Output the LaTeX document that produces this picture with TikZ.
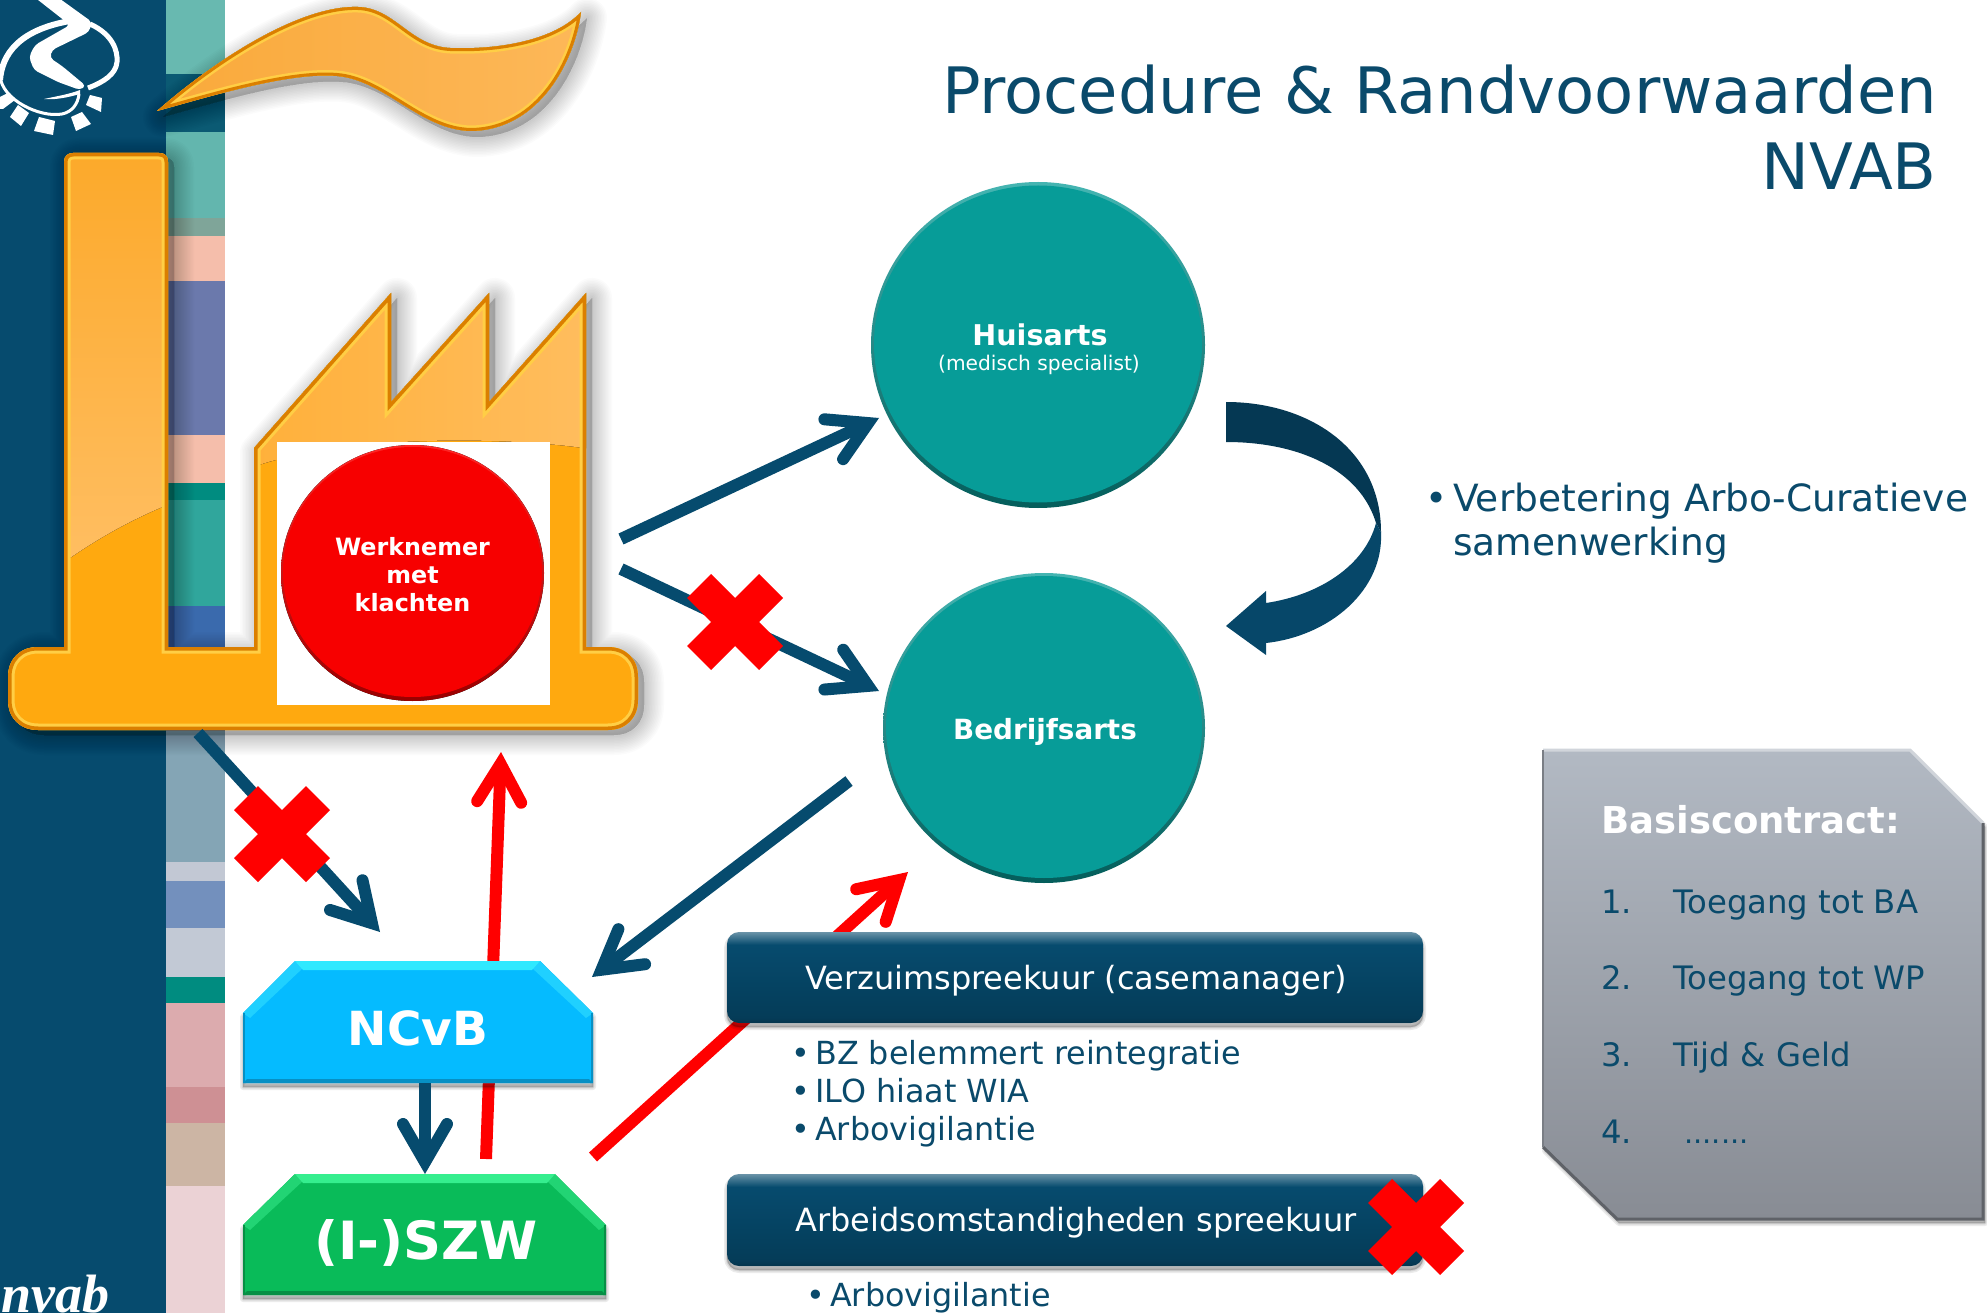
\documentclass[tikz,border=0pt]{standalone}
\usepackage{fontspec}
\setmainfont{DejaVu Sans}
\newfontfamily\logofont{Liberation Serif}
\usetikzlibrary{arrows.meta,shapes.geometric,calc}
\definecolor{navy}{HTML}{064B6E}
\definecolor{inktext}{HTML}{0A4A6B}
\definecolor{tealmain}{HTML}{079C98}
\definecolor{orangeedge}{HTML}{DB7F00}
\definecolor{orangein}{HTML}{FFCE45}
\definecolor{orangebase}{HTML}{FFA90F}
\definecolor{skyblue}{HTML}{05BBFF}
\definecolor{skytop}{HTML}{2FE9FF}
\definecolor{skyslant}{HTML}{20D0FF}
\definecolor{skyedge}{HTML}{0790C4}
\definecolor{greenbox}{HTML}{09BB59}
\definecolor{greentop}{HTML}{35EE8E}
\definecolor{greenslant}{HTML}{22D474}
\definecolor{greenedge}{HTML}{078F45}
\definecolor{fl1}{HTML}{F9A93A}
\definecolor{fl2}{HTML}{FDB859}
\definecolor{ch1}{HTML}{FCA92A}
\definecolor{ch2}{HTML}{FFBE62}
\definecolor{fa1}{HTML}{FFB03A}
\definecolor{fa2}{HTML}{FFBD5E}
\pgfdeclareverticalshading{btnshade}{100bp}{color(0bp)=(navy!70!black);color(25bp)=(navy!70!black);color(28bp)=(navy!80!black);color(68bp)=(navy);color(75bp)=(navy!60!white);color(100bp)=(navy!60!white)}
\definecolor{g1}{HTML}{888C94}
\definecolor{g2}{HTML}{B2B9C3}
\newcommand\softshadow[3]{%
  \foreach \w in {40,37,34,31,28,25,22,19,16,13,10,7,4}{%
    \draw[black,opacity=.014,line width=\w pt,line join=round,fill=black,shift={(#1,#2)}] #3;}}
\newcommand\smallshadow[3]{%
  \foreach \w in {6,3,1}{%
    \draw[black,opacity=.08,line width=\w pt,line join=round,fill=black,shift={(#1,#2)}] #3;}}
\newcommand\redcross[2]{%
  \fill[red,shift={(#1,#2)}] (-24,-48)--(0,-24)--(24,-48)--(48,-24)--(24,0)--(48,24)--(24,48)--(0,24)--(-24,48)--(-48,24)--(-24,0)--(-48,-24)--cycle;}
\newcommand\factorypath{(64,162) .. controls (64,156) and (68,153) .. (73,153) -- (159,153) .. controls (165,153) and (168,156) .. (168,162) -- (168,647) -- (254,647) -- (254,448) -- (391,293) -- (391,402) -- (489,293) -- (489,402) -- (586,293) -- (586,647) -- (608,647) .. controls (626,647) and (638,659) .. (638,677) -- (638,700) .. controls (638,718) and (626,730) .. (608,730) -- (38,730) .. controls (20,730) and (8,718) .. (8,700) -- (8,677) .. controls (8,659) and (20,647) .. (38,647) -- (64,647) -- cycle}
\newcommand\flamepath{(157,111) .. controls (215,60) and (300,5) .. (358,7) .. controls (395,8) and (410,46) .. (450,48) .. controls (500,50) and (555,40) .. (581,12) .. controls (575,60) and (540,130) .. (471,131) .. controls (420,130) and (385,80) .. (337,76) .. controls (290,72) and (215,95) .. cycle}
\newcommand\ncvbpath{(243,1013) -- (295,961) -- (540,961) -- (593,1013) -- (593,1083) -- (243,1083) -- cycle}
\newcommand\iszwpath{(243,1225) -- (295,1174) -- (555,1174) -- (606,1225) -- (606,1295) -- (243,1295) -- cycle}
\newcommand\basispath{(1543,750) -- (1910,750) -- (1983,823) -- (1983,1219) -- (1617,1219) -- (1543,1147) -- cycle}
\tikzset{
  flow/.style={draw=navy,line width=12pt,-{Straight Barb[length=38pt,width=44pt,line cap=round,line join=miter]}},
  redflow/.style={flow,draw=red},
  txt/.style={inner sep=0pt,text=inktext},
  btn/.style={rounded corners=12pt,shading=btnshade},
  capt/.style={inner sep=0pt,text=white},
  tealrim/.style={shape=ellipse,inner sep=0pt,top color=tealmain!75!white,middle color=tealmain,bottom color=tealmain!60!black,draw=none},
}
\begin{document}
\begin{tikzpicture}[x=1pt,y=-1pt]
\useasboundingbox (0,0) rectangle (1987,1313);
\fill[white] (0,0) rectangle (1987,1313);
% side band
\fill[navy] (0,0) rectangle (166,1313);
\foreach \a/\b/\c in {0/74/68B9B0,74/132/0B5A73,132/218/63B6AE,218/236/7FA599,236/281/F5BEAB,281/435/6B79AC,435/483/F5BEAB,483/500/008C80,500/606/30A69C,606/731/3A6AAD,731/862/84A5B5,862/881/C2C8D4,881/928/7390BD,928/977/C2C9D5,977/1003/008C80,1003/1087/DCABAE,1087/1123/CE9094,1123/1186/CCB5A4,1186/1313/EBD2D5}{
  \definecolor{stripecol}{HTML}{\c}
  \fill[stripecol] (166,\a) rectangle (225,\b);}
% logo
\begin{scope}[white]
  \fill[rounded corners=4pt] (33,-4) -- (56,-4) -- (92,22) -- (89,32) -- (52,50) -- (50,58) -- (62,66) -- (86,86) -- (80,90) -- (58,82) -- (34,70) -- (29,57) -- (35,45) -- (70,25) -- cycle;
  \fill (44,99) .. controls (58,96) and (70,94) .. (80,90) -- (80,94) .. controls (66,98) and (54,100) .. (44,99) -- cycle;
  \draw[line width=6pt,line cap=butt] (0,80) .. controls (2,55) and (18,30) .. (70,21);
  \draw[line width=5pt,line cap=butt] (90,24) .. controls (112,34) and (118,50) .. (117,62) .. controls (116,74) and (104,82) .. (88,88);
  \draw[line width=3pt,line cap=butt] (0,76) .. controls (2,100) and (40,118) .. (62,114) .. controls (72,112) and (78,104) .. (79,94);
  \fill (0,97) -- (8,93) -- (15,100) -- (3,109) -- (0,109) -- cycle;
  \fill (18,105) -- (29,113) -- (21,126) -- (10,117) -- cycle;
  \fill (39,117) -- (55,121) -- (53,135) -- (34,131) -- cycle;
  \fill (71,117) -- (82,112) -- (91,124) -- (76,131) -- cycle;
  \fill (86,105) -- (90,95) -- (102,98) -- (101,112) -- cycle;
\end{scope}
\node[capt,anchor=base west,font=\logofont\bfseries\itshape\fontsize{54}{54}\selectfont] (nvab) at (1,1312) {nvab};
% flame
\softshadow{6}{6}{\flamepath}
\begin{scope}
  \clip \flamepath;
  \fill[left color=fl1,right color=fl2] (150,0) rectangle (590,140);
  \draw[orangein,line width=11pt] \flamepath;
  \draw[orangeedge,line width=6pt] \flamepath;
\end{scope}
% factory
\softshadow{6}{5}{\factorypath}
\begin{scope}
  \clip \factorypath;
  \fill[orangebase] (0,140) rectangle (650,740);
  \fill[top color=ch1,bottom color=ch2] (60,150) -- (172,150) -- (172,503) .. controls (130,520) and (95,540) .. (60,565) -- cycle;
  \fill[left color=fa1,right color=fa2] (250,290) -- (590,290) -- (590,449) .. controls (520,438) and (350,432) .. (250,468) -- cycle;
  \draw[orangein,line width=13pt] \factorypath;
  \draw[orangeedge,line width=7pt] \factorypath;
\end{scope}
% worker
\fill[white] (277,442) rectangle (550,705);
\fill[top color=red!85!white,middle color=red,bottom color=red!60!black] (412.5,573) ellipse[x radius=131.5,y radius=128];
\fill[red!97!black] (412.5,572) ellipse[x radius=129.5,y radius=125];
\node[capt,font=\bfseries\fontsize{23.8}{28}\selectfont,align=center] (wk) at (412.5,575) {Werknemer\\met\\klachten};
% discs
\node[tealrim,minimum width=334pt,minimum height=326pt] (huisarts) at (1038,345) {};
\fill[tealmain] (1038,344) ellipse[x radius=164,y radius=158.5];
\node[tealrim,minimum width=322pt,minimum height=310pt] (bedrijfsarts) at (1044,728) {};
\fill[tealmain] (1044,727) ellipse[x radius=158,y radius=151];
\node[capt,font=\bfseries\fontsize{28.6}{28}\selectfont] (hatxt) at (1040,335) {Huisarts};
\node[capt,font=\fontsize{20.2}{22}\selectfont] (hasub) at (1039,365) {(medisch specialist)};
\node[capt,font=\bfseries\fontsize{27.8}{27}\selectfont] (batxt) at (1045,732) {Bedrijfsarts};
% connectors
\coordinate (wkA) at (621,539);
\coordinate (haT) at (879,418);
\coordinate (wkB) at (621,569);
\coordinate (baT) at (879,691);
\coordinate (fbS) at (198,733);
\coordinate (ncT) at (380,932);
\coordinate (baS) at (849,781);
\coordinate (ncR) at (592,977);
\coordinate (szS) at (486,1159);
\coordinate (fbT) at (501,752);
\coordinate (szR) at (593,1157);
\coordinate (baB) at (908,872);
\coordinate (ncB) at (425,1083);
\coordinate (szT) at (425,1174);
\draw[flow] (wkA) -- (haT);
\draw[flow] (wkB) -- (baT);
\draw[flow] (fbS) -- (ncT);
\draw[flow] (baS) -- (ncR);
\draw[redflow] (szS) -- (fbT);
\draw[redflow] (szR) -- (baB);
% crosses
\redcross{735}{622}
\redcross{282}{834}
% NCvB
\smallshadow{0}{4}{\ncvbpath}
\fill[skyblue] \ncvbpath;
\fill[skyslant] (243,1013) -- (295,961) -- (303,968) -- (250,1018) -- cycle;
\fill[skyslant] (593,1013) -- (540,961) -- (532,968) -- (586,1018) -- cycle;
\fill[skytop] (295,961) -- (540,961) -- (532,970) -- (303,970) -- cycle;
\fill[skyedge] (243,1083) -- (593,1083) -- (589,1079) -- (247,1079) -- cycle;
\fill[skyedge] (243,1013) -- (245,1013) -- (245,1083) -- (243,1083) -- cycle;
\fill[skyedge] (593,1013) -- (591,1013) -- (591,1083) -- (593,1083) -- cycle;
\node[capt,font=\bfseries\fontsize{47}{47}\selectfont] (ncvb) at (418,1028) {NCvB};
% SZW
\smallshadow{0}{4}{\iszwpath}
\fill[greenbox] \iszwpath;
\fill[greenslant] (243,1225) -- (295,1174) -- (303,1181) -- (250,1230) -- cycle;
\fill[greenslant] (606,1225) -- (555,1174) -- (547,1181) -- (599,1230) -- cycle;
\fill[greentop] (295,1174) -- (555,1174) -- (547,1183) -- (303,1183) -- cycle;
\fill[greenedge] (243,1295) -- (606,1295) -- (602,1291) -- (247,1291) -- cycle;
\fill[greenedge] (243,1225) -- (245,1225) -- (245,1295) -- (243,1295) -- cycle;
\fill[greenedge] (606,1225) -- (604,1225) -- (604,1295) -- (606,1295) -- cycle;
\node[capt,font=\bfseries\fontsize{52.7}{47}\selectfont] (iszw) at (426,1243) {(I-)SZW};
\draw[flow] (ncB) -- (szT);
% buttons
\smallshadow{0}{4}{[rounded corners=12pt] (727,932) rectangle (1423,1023)}
\path[btn] (727,932) rectangle (1423,1023);
\node[capt,font=\fontsize{32}{32}\selectfont] (vz) at (1076,981) {Verzuimspreekuur (casemanager)};
\smallshadow{0}{4}{[rounded corners=12pt] (727,1174) rectangle (1423,1266)}
\path[btn] (727,1174) rectangle (1423,1266);
\node[capt,font=\fontsize{32}{32}\selectfont] (ao) at (1076,1223) {Arbeidsomstandigheden spreekuur};
\redcross{1416}{1227}
% lists
\node[txt,anchor=north west,align=left,font=\fontsize{31.8}{38}\selectfont] (bl) at (791,1040) {\makebox[24pt][l]{•}BZ belemmert reintegratie\\\makebox[24pt][l]{•}ILO hiaat WIA\\\makebox[24pt][l]{•}Arbovigilantie};
\node[txt,anchor=north west,align=left,font=\fontsize{31.8}{38}\selectfont] (bl2) at (806,1282) {\makebox[24pt][l]{•}Arbovigilantie};
% title
\node[txt,anchor=north east,align=right,font=\fontsize{64}{76}\selectfont] (title) at (1937,65) {Procedure \& Randvoorwaarden\\NVAB};
% curved arrow
\fill[navy!75!black] (1226,402) .. controls (1310,402) and (1381,450) .. (1381,532) -- (1376,523) .. controls (1360,470) and (1300,442) .. (1226,442) -- cycle;
\fill[navy!95!black] (1381,532) .. controls (1384,590) and (1330,636) .. (1266,643) -- (1266,655) -- (1226,626) -- (1266,591) -- (1266,603) .. controls (1320,595) and (1365,565) .. (1376,523) -- cycle;
\node[txt,anchor=north west,align=left,font=\fontsize{37.5}{44}\selectfont] (verb) at (1425,483) {\makebox[28pt][l]{•}Verbetering Arbo-Curatieve\\\makebox[28pt][l]{}samenwerking};
% basis box
\smallshadow{2}{4}{\basispath}
\fill[top color=g2,bottom color=g1] \basispath;
\draw[line width=3pt,g2!60!white] (1543,750) -- (1910,750) -- (1983,823);
\draw[line width=3pt,g1!70!black] (1983,823) -- (1983,1219) -- (1617,1219) -- (1543,1147);
\draw[line width=2pt,g1!90!black] (1543,1147) -- (1543,750);
\node[capt,anchor=west,font=\bfseries\fontsize{37}{37}\selectfont] (bc) at (1601,820) {Basiscontract:};
\node[txt,anchor=base west,font=\fontsize{32.3}{33}\selectfont] (n1) at (1601,913) {1.};
\node[txt,anchor=base west,font=\fontsize{32.3}{33}\selectfont] (t1) at (1673,913) {Toegang tot BA};
\node[txt,anchor=base west,font=\fontsize{32.3}{33}\selectfont] (n2) at (1601,989) {2.};
\node[txt,anchor=base west,font=\fontsize{32.3}{33}\selectfont] (t2) at (1673,989) {Toegang tot WP};
\node[txt,anchor=base west,font=\fontsize{32.3}{33}\selectfont] (n3) at (1601,1066) {3.};
\node[txt,anchor=base west,font=\fontsize{32.3}{33}\selectfont] (t3) at (1673,1066) {Tijd \& Geld};
\node[txt,anchor=base west,font=\fontsize{32.3}{33}\selectfont] (n4) at (1601,1143) {4.};
\node[txt,anchor=base west,font=\fontsize{29}{33}\selectfont] (t4) at (1684,1143) {.......};
\end{tikzpicture}
\end{document}
